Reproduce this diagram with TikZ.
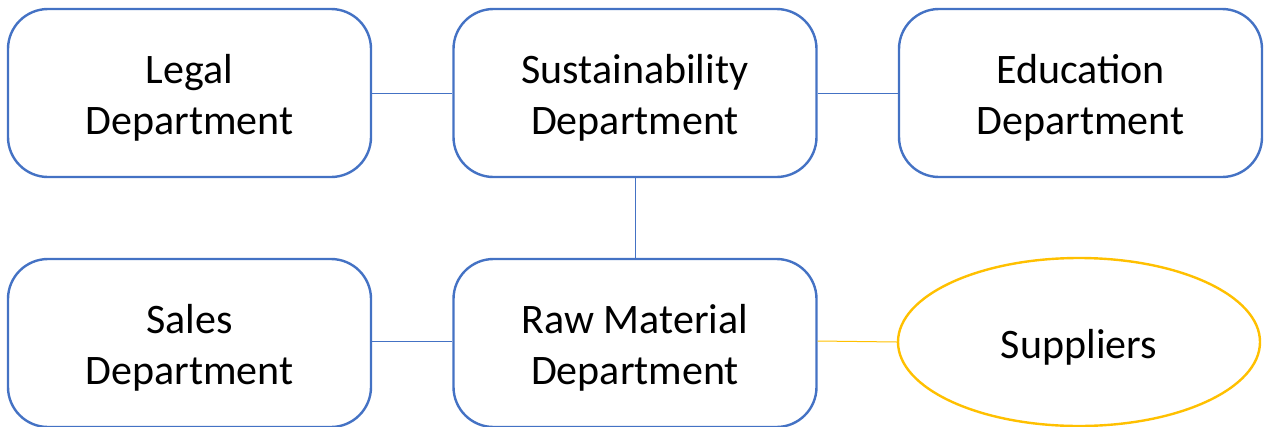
\documentclass[tikz,border=0pt]{standalone}
\usepackage{fontspec}
\setmainfont{Carlito}
\usepackage{tikz}
\usetikzlibrary{shapes.geometric}
\definecolor{deptblue}{HTML}{4472C4}
\definecolor{suppyellow}{HTML}{FFC000}
\newcommand{\lowtxt}{\rule{0pt}{39pt}}

\begin{document}
\begin{tikzpicture}[
x=1pt,y=-1pt,
DeptBoxes/.style={draw=deptblue,line width=2.4pt,rounded corners=40pt,fill=white,
  minimum width=363pt,minimum height=168pt,align=center,inner sep=0pt},
SuppEllipse/.style={ellipse,draw=suppyellow,line width=2.4pt,fill=white,
  minimum width=362pt,minimum height=168pt,inner sep=0pt},
Links/.style={draw=deptblue,line width=1pt},
every node/.style={font=\fontsize{42}{51}\selectfont}
]
\useasboundingbox (0,0) rectangle (1269,426);

% top row
\node[DeptBoxes] (legal) at (189.5,93) {\lowtxt Legal\\Department};
\node[DeptBoxes] (sustain) at (635,93) {\lowtxt Sustainability\\Department};
\node[DeptBoxes] (edu) at (1080.5,93) {\lowtxt Education\\Department};

% bottom row
\node[DeptBoxes] (sales) at (189.5,343) {\lowtxt Sales\\Department};
\node[DeptBoxes] (raw) at (635,343) {\lowtxt Raw Material\\Department};
\node[SuppEllipse] (supp) at (1079,342) {\lowtxt Suppliers};

\draw[Links] (legal) -- (sustain);
\draw[Links] (sustain) -- (edu);
\draw[Links] (sustain) -- (raw);
\draw[Links] (sales.east |- 0,341) -- (raw.west |- 0,341);
\draw[draw=suppyellow,line width=1pt] (raw.east |- 0,341) -- (supp.west);

\end{tikzpicture}
\end{document}
